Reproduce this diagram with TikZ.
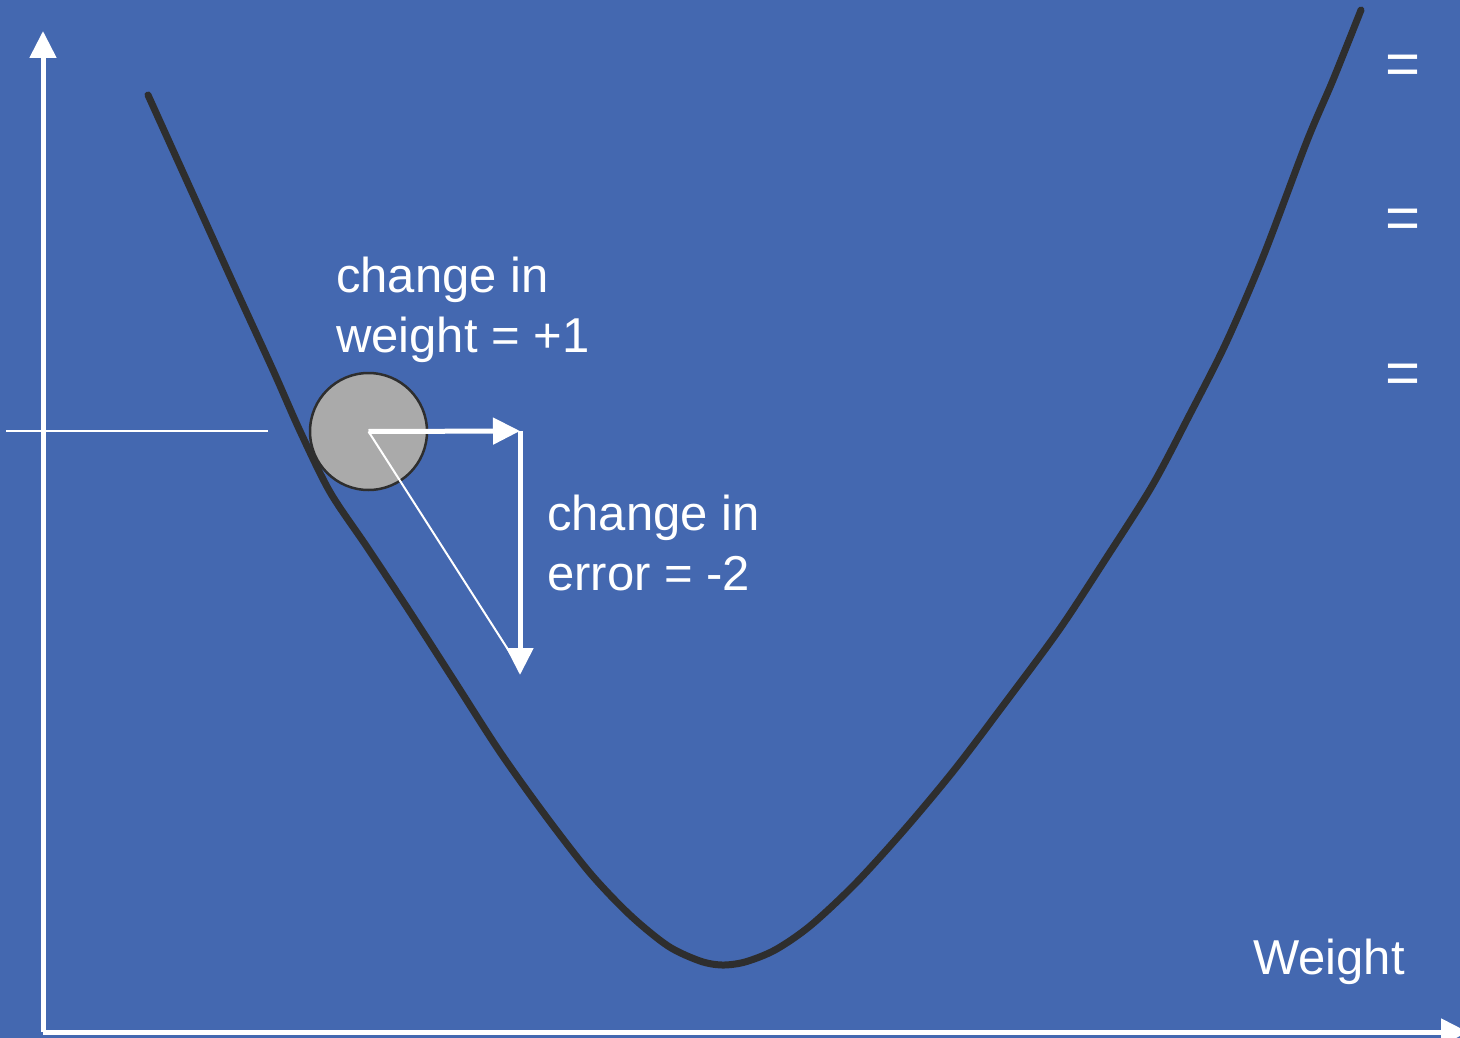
\documentclass[tikz,border=0pt]{standalone}
\usepackage{fontspec}
\setmainfont{Liberation Sans}
\usetikzlibrary{arrows.meta}
\definecolor{bg}{RGB}{68,104,176}
\definecolor{curvecol}{RGB}{46,46,46}
\definecolor{ballfill}{RGB}{170,170,170}
\tikzset{
  axisline/.style={draw=white, line width=5pt, -{Triangle[length=27pt,width=26pt]}},
  whitearrow/.style={draw=white, line width=5pt, -{Triangle[length=27pt,width=26pt]}},
  thinline/.style={draw=white, line width=2.5pt},
  lbl/.style={text=white, inner sep=0pt, anchor=base west, align=left,
     font=\fontsize{49}{60}\selectfont},
  eqsign/.style={text=white, inner sep=0pt, anchor=base, font=\fontsize{60}{60}\selectfont},
  errcurve/.style={draw=curvecol, line width=7pt, line cap=round, line join=round},
  ballstyle/.style={circle, fill=ballfill, draw=curvecol, line width=2.5pt,
     minimum size=117pt, inner sep=0pt}
}
\begin{document}
\begin{tikzpicture}[x=1pt,y=-1pt]
\useasboundingbox (0,0) rectangle (1460,1038);
\fill[bg] (0,0) rectangle (1460,1038);

% error curve
\draw[errcurve] plot[smooth, tension=0.5] coordinates {
 (148,95) (191,190) (234,285) (273,370) (300,431) (330,492) (367,547)
 (410,612) (455,682) (500,752) (545,815) (590,873) (630,915) (668,946)
 (700,961) (722,965) (745,962) (775,950) (810,926) (855,884) (905,829)
 (955,769) (1005,703) (1059,630) (1105,560) (1152,486) (1189,416)
 (1226,343) (1263,257) (1307,141) (1333,80) (1361,10)};

% axes
\coordinate (origin) at (43,1032);
\coordinate (ytip) at (43,31);
\coordinate (xtip) at (1468,1032);
\draw[axisline] (origin) -- (ytip);
\draw[axisline] (origin) -- (xtip);

% level line
\coordinate (lvlL) at (6,431);
\coordinate (lvlR) at (268,431);
\draw[thinline] (lvlL) -- (lvlR);

% ball
\node[ballstyle] (ball) at (368.5,431.5) {};
\coordinate (corner) at (520,431);
\coordinate (bottom) at (520,675);
\coordinate (diagEnd) at (516,662);
\draw[thinline, line width=2pt] (ball.center) -- (diagEnd);
\draw[whitearrow] (ball.center) -- (corner);
\draw[whitearrow] (corner) -- (bottom);

% labels (base anchor = baseline of last line)
\node[lbl] (dw) at (336,352) {change in\\weight = +1};
\node[lbl] (de) at (547,590) {change in\\error = -2};
\node[lbl] (wl) at (1253,974) {Weight};

\node[eqsign] (eq1) at (1403,85) {=};
\node[eqsign] (eq2) at (1403,238) {=};
\node[eqsign] (eq3) at (1403,393) {=};
\end{tikzpicture}
\end{document}
